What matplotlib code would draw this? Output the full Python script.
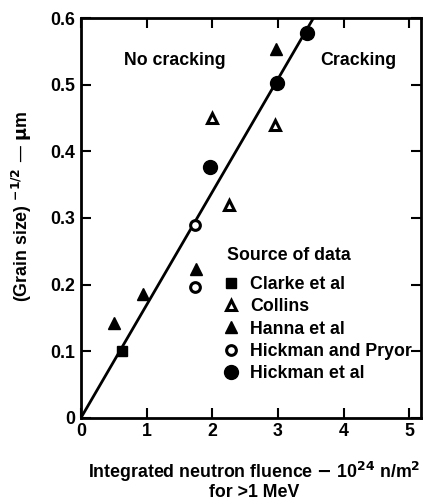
import numpy as np
import matplotlib.pyplot as plt

plt.rcParams['font.family'] = ['Liberation Sans', 'DejaVu Sans']
plt.rcParams['font.weight'] = 'bold'
plt.rcParams['axes.labelweight'] = 'bold'
plt.rcParams['mathtext.default'] = 'bf'

# fluence (10^24 n/m^2), grain size^-1/2 (um^-1/2)
clarke_x = [0.62]
clarke_y = [0.10]
collins_x = [2.0, 2.25, 2.95]
collins_y = [0.45, 0.32, 0.44]
hanna_x = [0.5, 0.95, 1.75, 2.97]
hanna_y = [0.143, 0.186, 0.224, 0.553]
pryor_x = [1.74, 1.74]
pryor_y = [0.196, 0.289]
hickman_x = [1.96, 2.98, 3.45]
hickman_y = [0.376, 0.503, 0.577]

# cracking boundary through the origin
line_x = [0.0, 3.6]
slope = 0.1695

fs = 12.8

fig = plt.figure(figsize=(4.24, 5.04), dpi=100)
ax = fig.add_axes([0.191, 0.171, 0.802, 0.793])

lx = np.array(line_x)
ax.plot(lx, slope * lx, color='black', lw=2.0, zorder=2)

ms = 8
ax.plot(clarke_x, clarke_y, 's', color='black', ms=ms - 1, label='Clarke et al', zorder=3)
ax.plot(collins_x, collins_y, '^', mfc='white', mec='black', mew=2.2, ms=ms - 1,
        label='Collins', zorder=3)
ax.plot(hanna_x, hanna_y, '^', color='black', ms=ms, label='Hanna et al', zorder=3)
ax.plot(pryor_x, pryor_y, 'o', mfc='white', mec='black', mew=2.2, ms=ms - 1,
        label='Hickman and Pryor', zorder=3)
ax.plot(hickman_x, hickman_y, 'o', color='black', ms=ms + 2, label='Hickman et al', zorder=3)

ax.set_xlim(0, 5.18)
ax.set_ylim(0, 0.6)
ax.set_xticks([0, 1, 2, 3, 4, 5])
ax.set_yticks([0, 0.1, 0.2, 0.3, 0.4, 0.5, 0.6])
ax.set_yticklabels(['0', '0.1', '0.2', '0.3', '0.4', '0.5', '0.6'])
ax.tick_params(direction='in', length=7, width=1.5, labelsize=fs, pad=4,
               top=True, right=True)
for sp in ax.spines.values():
    sp.set_linewidth(2.0)

ax.text(1.43, 0.536, 'No cracking', fontsize=fs, ha='center', va='center')
ax.text(4.22, 0.536, 'Cracking', fontsize=fs, ha='center', va='center')

# legend heading drawn separately to get the wider gap above the entries
ax.text(0.43, 0.405, 'Source of data', transform=ax.transAxes, fontsize=fs,
        ha='left', va='center')
leg = ax.legend(loc='upper left', bbox_to_anchor=(0.42, 0.355),
                frameon=False, fontsize=fs,
                handlelength=0.8, handletextpad=0.7, labelspacing=0.3,
                borderaxespad=0, borderpad=0)

ax.set_ylabel(r'(Grain size) $^{-1/2}$ — $\mu$m', fontsize=fs, va='center')
ax.yaxis.set_label_coords(-0.175, 0.53)
ax.set_xlabel(r'Integrated neutron fluence $-$ 10$^{24}$ n/m$^{2}$'
              '\n' 'for >1 MeV', fontsize=fs, linespacing=1.0, va='top')
ax.xaxis.set_label_coords(0.51, -0.105)

fig.savefig('out.png', dpi=100)
